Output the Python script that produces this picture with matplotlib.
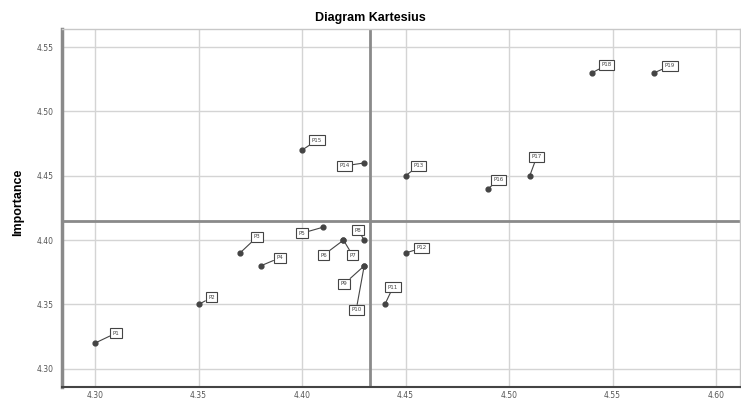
import numpy as np
import matplotlib.pyplot as plt

# data (performance vs importance)
labels = ["P1", "P2", "P3", "P4", "P5", "P6", "P7", "P8", "P9", "P10",
          "P11", "P12", "P13", "P14", "P15", "P16", "P17", "P18", "P19"]
performance = [4.30, 4.35, 4.37, 4.38, 4.41, 4.42, 4.42, 4.43, 4.43, 4.43,
               4.44, 4.45, 4.45, 4.43, 4.40, 4.49, 4.51, 4.54, 4.57]
importance = [4.32, 4.35, 4.39, 4.38, 4.41, 4.40, 4.40, 4.40, 4.38, 4.38,
              4.35, 4.39, 4.45, 4.46, 4.47, 4.44, 4.45, 4.53, 4.53]

# label offsets in pixels (dx, dy), up is positive
offsets = [(21, 10), (13, 7), (17, 16), (19, 8), (-21, -6), (-20, -15), (9, -15),
           (-6, 10), (-20, -18), (-8, -44), (8, 17), (16, 5), (13, 10), (-20, -3),
           (15, 10), (10, 9), (7, 19), (15, 8), (16, 7)]

x_ticks = [4.30, 4.35, 4.40, 4.45, 4.50, 4.55, 4.60]
y_ticks = [4.30, 4.35, 4.40, 4.45, 4.50, 4.55]

fig = plt.figure(figsize=(7.41, 4.05), dpi=100)
ax = fig.add_axes([0.0837, 0.045, 0.915, 0.883])

ax.set_xlim(4.284, 4.6116)
ax.set_ylim(4.286, 4.564)
ax.set_xticks(x_ticks)
ax.set_yticks(y_ticks)
ax.set_xticklabels(["%.2f" % v for v in x_ticks])
ax.set_yticklabels(["%.2f" % v for v in y_ticks])
ax.tick_params(length=0, labelsize=5.5, colors="#555555")
ax.tick_params(axis="y", pad=6)
ax.tick_params(axis="x", pad=3)
ax.grid(True, color="#d4d4d4", linewidth=1)
ax.set_axisbelow(True)

for side in ["top", "right"]:
    ax.spines[side].set_color("#c8c8c8")
    ax.spines[side].set_linewidth(1)
ax.spines["left"].set_color("#8a8a8a")
ax.spines["left"].set_linewidth(2.5)
ax.spines["bottom"].set_color("#444444")
ax.spines["bottom"].set_linewidth(1.5)

# mean reference lines
ax.axvline(np.mean(performance), color="#8a8a8a", linewidth=2, zorder=2)
ax.axhline(np.mean(importance), color="#8a8a8a", linewidth=2, zorder=2)

ax.scatter(performance, importance, s=12, color="#444444", zorder=4)

for lab, x, y, (dx, dy) in zip(labels, performance, importance, offsets):
    ax.annotate(lab, (x, y), xytext=(dx, dy), textcoords="offset pixels",
                fontsize=4, color="#444444", ha="center", va="center",
                bbox=dict(boxstyle="square,pad=0.45", fc="white", ec="#444444", lw=0.8),
                arrowprops=dict(arrowstyle="-", color="#444444", lw=0.8,
                                shrinkA=0, shrinkB=0),
                zorder=5)

fig.text(0.5, 0.955, "Diagram Kartesius", ha="center", va="center",
         fontsize=9, fontweight="bold", family="Liberation Sans")
fig.text(0.024, 0.5, "Importance", ha="center", va="center", rotation=90,
         fontsize=9, fontweight="bold", family="Liberation Sans")

fig.savefig("out.png", dpi=100)
